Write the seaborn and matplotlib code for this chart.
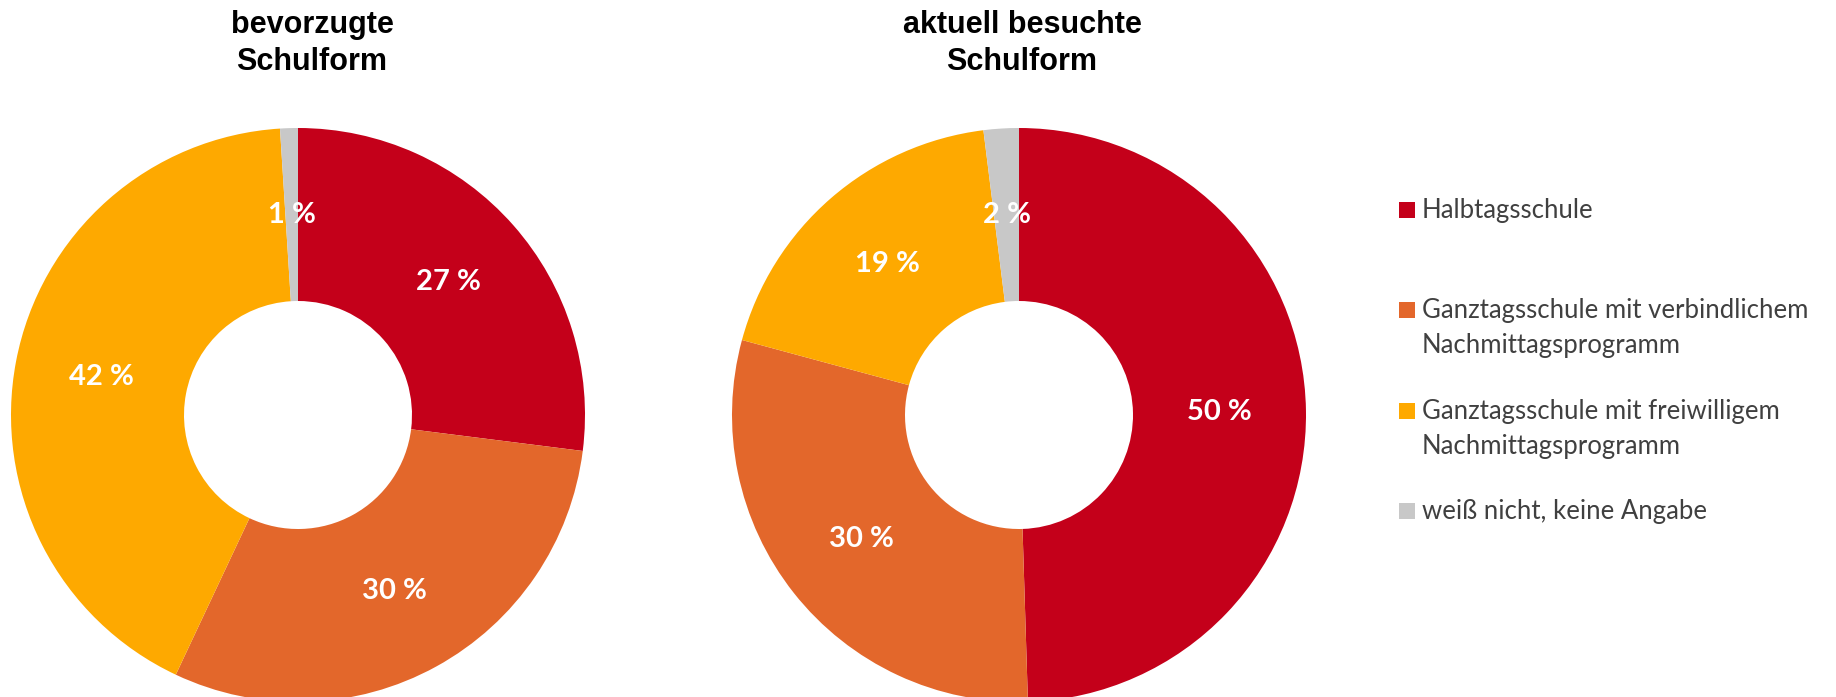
import matplotlib
matplotlib.use("Agg")
import matplotlib.pyplot as plt
from matplotlib.patches import Rectangle
import seaborn as sns

# ---- data ----
categories = [
    "Halbtagsschule",
    "Ganztagsschule mit verbindlichem\nNachmittagsprogramm",
    "Ganztagsschule mit freiwilligem\nNachmittagsprogramm",
    "weiß nicht, keine Angabe",
]
titles = ["bevorzugte\nSchulform", "aktuell besuchte\nSchulform"]
preferred = [27, 30, 42, 1]
current = [50, 30, 19, 2]
colors = ["#C4001A", "#E3672B", "#FEA900", "#C8C8C8"]

sns.set_theme(style="white")
plt.rcParams["font.family"] = ["Lato", "DejaVu Sans"]

W, H = 1836, 697
fig = plt.figure(figsize=(W / 100, H / 100), dpi=100)
fig.patch.set_facecolor("white")

R = 287  # outer radius px
r_in = 114
centers = [(298, 415), (1019, 415)]
title_x = [312, 1022]


def px_ax(cx, cy):
    return fig.add_axes([(cx - R) / W, (H - cy - R) / H, 2 * R / W, 2 * R / H])


for vals, (cx, cy), title, tx in zip([preferred, current], centers, titles, title_x):
    ax = px_ax(cx, cy)
    wedges, _, autotexts = ax.pie(
        vals,
        colors=colors,
        startangle=90,
        counterclock=False,
        radius=1.0,
        wedgeprops=dict(width=1 - r_in / R, edgecolor="none", linewidth=0),
        autopct="%1.0f",
        pctdistance=(1 + r_in / R) / 2,
    )
    for t, v in zip(autotexts, vals):
        t.set_text(f"{v} %")
        t.set_color("white")
        t.set_fontweight("bold")
        t.set_fontsize(21)
        t.set_family(["Lato", "DejaVu Sans"])
    ax.set_xlim(-1, 1)
    ax.set_ylim(-1, 1)
    ax.set_aspect("equal")
    ax.axis("off")
    # title lines
    for k, line in enumerate(title.split("\n")):
        fig.text(tx / W, 1 - (33 + 37 * k) / H, line, ha="center", va="baseline",
                 fontsize=22, fontweight="bold", color="black",
                 family=["Liberation Sans", "DejaVu Sans"])

# ---- legend (manual, Excel-like) ----
first_baselines = [218, 318, 419, 519]
for cat, col, yb in zip(categories, colors, first_baselines):
    fig.add_artist(Rectangle((1399 / W, 1 - (yb - 0.5) / H), 16 / W, 16 / H,
                             transform=fig.transFigure, facecolor=col,
                             edgecolor="none"))
    for k, line in enumerate(cat.split("\n")):
        fig.text(1422 / W, 1 - (yb + 35 * k) / H, line, ha="left", va="baseline",
                 fontsize=18.5, color="#404040", family=["Lato", "DejaVu Sans"])

fig.savefig("out.png", dpi=100, facecolor="white")
